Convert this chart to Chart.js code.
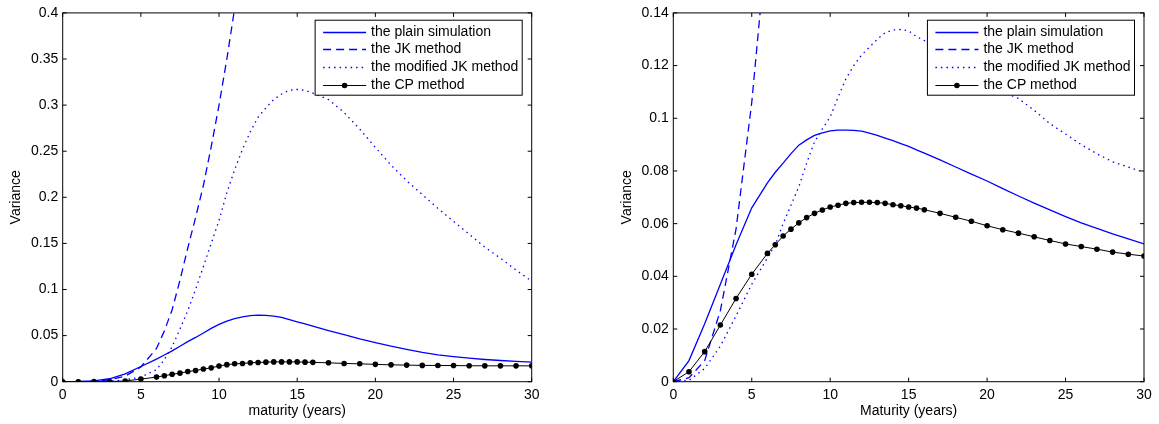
<!DOCTYPE html>
<html lang="en">
<head>
<meta charset="UTF-8">
<title>Variance vs maturity</title>
<script src="https://cdn.jsdelivr.net/npm/chart.js"></script>
<style>
  body { margin: 0; background: #fff; }
  #wrap { position: relative; width: 1159px; height: 424px; }
  canvas { position: absolute; top: 0; }
  #left { left: 0; }
  #right { left: 611px; }
</style>
</head>
<body>
<div id="wrap">
  <canvas id="left" width="545" height="424"></canvas>
  <canvas id="right" width="548" height="424"></canvas>
</div>
<script>
// maturities (years) where the curves are evaluated
const maturities = [0, 1, 2, 3, 4, 5, 6, 6.5, 7, 7.5, 8, 8.5, 9, 9.5, 10, 10.5, 11, 11.5, 12, 12.5,
  13, 13.5, 14, 14.5, 15, 15.5, 16, 17, 18, 19, 20, 21, 22, 23, 24, 25, 26, 27, 28, 29, 30];

const seriesNames = ['the plain simulation', 'the JK method', 'the modified JK method', 'the CP method'];

// left panel
const leftPlain = [0, 0.0002, 0.0008, 0.0032, 0.0086, 0.0165, 0.0245,
  0.029, 0.0335, 0.0385, 0.0435, 0.048, 0.0528, 0.0578, 0.0622, 0.0656, 0.0684, 0.0704, 0.0717, 0.0722,
  0.072, 0.0712, 0.0697, 0.0674, 0.065, 0.0626, 0.0602,
  0.0555, 0.051, 0.0465, 0.0424, 0.0385, 0.035, 0.0318, 0.0292, 0.0272, 0.0255, 0.0241, 0.023, 0.0221, 0.0212];
const leftJK = [0, 0, 0.0003, 0.002, 0.006, 0.016, 0.036,
  0.055, 0.078, 0.11, 0.145, 0.178, 0.213, 0.255, 0.3, 0.35, 0.405, 0.46, null, null,
  null, null, null, null, null, null, null,
  null, null, null, null, null, null, null, null, null, null, null, null, null, null];
const leftModJK = [0, 0, 0.0001, 0.0005, 0.002, 0.005, 0.013,
  0.024, 0.038, 0.057, 0.077, 0.1, 0.125, 0.15, 0.175, 0.205, 0.23, 0.252, 0.271, 0.287,
  0.297, 0.306, 0.312, 0.316, 0.317, 0.316, 0.313,
  0.306, 0.292, 0.274, 0.254, 0.235, 0.218, 0.203, 0.188, 0.174, 0.16, 0.146, 0.134, 0.121, 0.109];
const leftCP = [0, 0, 0.0001, 0.0002, 0.0008, 0.0028, 0.005,
  0.0065, 0.008, 0.0093, 0.011, 0.0122, 0.0137, 0.015, 0.017, 0.0185, 0.0194, 0.0198, 0.0205, 0.0208,
  0.0212, 0.0215, 0.0215, 0.0215, 0.0215, 0.0212, 0.021,
  0.0205, 0.0198, 0.0194, 0.0188, 0.0183, 0.018, 0.0177, 0.0176, 0.0175, 0.0173, 0.0172, 0.0172, 0.0172, 0.0172];

// right panel
const rightPlain = [0, 0.008, 0.022, 0.037, 0.052, 0.066, 0.0755,
  0.0795, 0.083, 0.0866, 0.0898, 0.0918, 0.0935, 0.0945, 0.0952, 0.0955, 0.0955, 0.0954, 0.0951, 0.0944,
  0.0935, 0.0925, 0.0915, 0.0904, 0.0893, 0.088, 0.0868,
  0.0842, 0.0815, 0.0788, 0.0762, 0.0733, 0.0705, 0.0678, 0.0652, 0.0627, 0.0603, 0.0582, 0.0561, 0.0542, 0.0523];
const rightJK = [0, 0.0015, 0.008, 0.027, 0.058, 0.106, 0.17,
  null, null, null, null, null, null, null, null, null, null, null, null, null,
  null, null, null, null, null, null, null,
  null, null, null, null, null, null, null, null, null, null, null, null, null, null];
const rightModJK = [0, 0.0005, 0.005, 0.0135, 0.025, 0.037, 0.047,
  0.052, 0.06, 0.067, 0.074, 0.083, 0.091, 0.096, 0.1005, 0.108, 0.115, 0.12, 0.124, 0.127,
  0.13, 0.1325, 0.1335, 0.1337, 0.1332, 0.131, 0.1295,
  0.126, 0.121, 0.117, 0.1135, 0.11, 0.1075, 0.103, 0.098, 0.094, 0.09, 0.0865, 0.0835, 0.0815, 0.0795];
const rightCP = [0, 0.0038, 0.0114, 0.0215, 0.0316, 0.0408, 0.0487,
  0.052, 0.0553, 0.0579, 0.0603, 0.0623, 0.0639, 0.0652, 0.0663, 0.067, 0.0677, 0.068, 0.0681, 0.0681,
  0.068, 0.0677, 0.0672, 0.0668, 0.0663, 0.0659, 0.0653,
  0.0639, 0.0624, 0.0609, 0.0592, 0.0577, 0.0564, 0.055, 0.0536, 0.0523, 0.0513, 0.0503, 0.0492, 0.0484, 0.0477];

// ticks
const xTicks = [0, 5, 10, 15, 20, 25, 30];
const xTickLabels = ['0', '5', '10', '15', '20', '25', '30'];
const leftYTicks = [0, 0.05, 0.1, 0.15, 0.2, 0.25, 0.3, 0.35, 0.4];
const leftYTickLabels = ['0', '0.05', '0.1', '0.15', '0.2', '0.25', '0.3', '0.35', '0.4'];
const rightYTicks = [0, 0.02, 0.04, 0.06, 0.08, 0.1, 0.12, 0.14];
const rightYTickLabels = ['0', '0.02', '0.04', '0.06', '0.08', '0.1', '0.12', '0.14'];

const FONT = '"Liberation Sans", Arial, Helvetica, sans-serif';
Chart.defaults.font.family = FONT;
Chart.defaults.font.size = 14;
Chart.defaults.color = '#000';

// line styles, same order as seriesNames
const styles = [
  { color: '#0000ff', width: 1.3, dash: [], order: 4, dot: 0 },
  { color: '#0000ff', width: 1.3, dash: [8, 5], order: 3, dot: 0 },
  { color: '#0000ff', width: 1.3, dash: [1.5, 4], order: 2, dot: 0 },
  { color: '#000000', width: 1, dash: [], order: 1, dot: 2.8 }
];

// MATLAB style box with inward ticks + legend in the upper right corner
const framePlugin = {
  id: 'frame',
  afterDatasetsDraw(chart) {
    const { ctx, chartArea: a, scales: { x, y } } = chart;
    const tl = 4;
    ctx.save();
    ctx.strokeStyle = '#000';
    ctx.lineWidth = 1;
    ctx.beginPath();
    x.ticks.forEach(t => {
      const px = x.getPixelForValue(t.value);
      ctx.moveTo(px, a.bottom); ctx.lineTo(px, a.bottom - tl);
      ctx.moveTo(px, a.top); ctx.lineTo(px, a.top + tl);
    });
    y.ticks.forEach(t => {
      const py = y.getPixelForValue(t.value);
      ctx.moveTo(a.left, py); ctx.lineTo(a.left + tl, py);
      ctx.moveTo(a.right, py); ctx.lineTo(a.right - tl, py);
    });
    ctx.stroke();
    ctx.strokeRect(a.left, a.top, a.right - a.left, a.bottom - a.top);

    // legend
    ctx.font = '14px ' + FONT;
    const textW = Math.max(...seriesNames.map(n => ctx.measureText(n).width));
    const w = 56 + textW + 4, h = 75;
    const bx = a.right - 9.5 - w, by = a.top + 7.3;
    ctx.fillStyle = '#fff';
    ctx.fillRect(bx, by, w, h);
    ctx.strokeStyle = '#000';
    ctx.lineWidth = 1;
    ctx.strokeRect(bx, by, w, h);
    seriesNames.forEach((name, i) => {
      const st = styles[i];
      const cy = Math.round(by + 11.3 + i * 17.7) + 0.5;
      ctx.strokeStyle = st.color;
      ctx.lineWidth = st.width;
      ctx.setLineDash(st.dash);
      ctx.beginPath();
      ctx.moveTo(bx + 8, cy); ctx.lineTo(bx + 51, cy);
      ctx.stroke();
      ctx.setLineDash([]);
      if (st.dot > 0) {
        ctx.fillStyle = st.color;
        ctx.beginPath();
        ctx.arc(bx + 29.5, cy, st.dot, 0, Math.PI * 2);
        ctx.fill();
      }
      ctx.fillStyle = '#000';
      ctx.textBaseline = 'middle';
      ctx.textAlign = 'left';
      ctx.fillText(name, bx + 56, cy);
    });
    ctx.restore();
  }
};

function makeChart(id, series, yMax, yTicks, yTickLabels, xTitle, yAxisWidth, padRight) {
  const datasets = series.map((vals, i) => ({
    label: seriesNames[i],
    data: maturities.map((m, j) => ({ x: m, y: vals[j] })),
    borderColor: styles[i].color,
    borderWidth: styles[i].width,
    borderDash: styles[i].dash,
    order: styles[i].order,
    pointRadius: styles[i].dot,
    pointBackgroundColor: styles[i].color,
    pointBorderWidth: 0,
    tension: 0,
    spanGaps: false
  }));

  return new Chart(document.getElementById(id), {
    type: 'line',
    data: { datasets },
    options: {
      responsive: false,
      animation: false,
      devicePixelRatio: 1,
      layout: { padding: { left: 0, top: 11.7, right: padRight, bottom: 0 } },
      plugins: { legend: { display: false }, tooltip: { enabled: false } },
      scales: {
        x: {
          type: 'linear', min: 0, max: 30,
          grid: { display: false, drawTicks: false },
          border: { display: false },
          afterBuildTicks: s => { s.ticks = xTicks.map(v => ({ value: v })); },
          ticks: { padding: 5, maxRotation: 0, autoSkip: false, callback: (v, i) => xTickLabels[i] },
          title: { display: true, text: xTitle, padding: { top: 0, bottom: 4 } },
          afterFit: s => { s.height = 42.3; }
        },
        y: {
          type: 'linear', min: 0, max: yMax,
          grid: { display: false, drawTicks: false },
          border: { display: false },
          afterBuildTicks: s => { s.ticks = yTicks.map(v => ({ value: v })); },
          ticks: { padding: 4.5, autoSkip: false, callback: (v, i) => yTickLabels[i] },
          title: { display: true, text: 'Variance', padding: { top: 7.6, bottom: 0 } },
          afterFit: s => { s.width = yAxisWidth; }
        }
      }
    },
    plugins: [framePlugin]
  });
}

makeChart('left', [leftPlain, leftJK, leftModJK, leftCP], 0.4, leftYTicks, leftYTickLabels,
  'maturity (years)', 62.7, 13.3);
makeChart('right', [rightPlain, rightJK, rightModJK, rightCP], 0.14, rightYTicks, rightYTickLabels,
  'Maturity (years)', 62.3, 15);
</script>
</body>
</html>
